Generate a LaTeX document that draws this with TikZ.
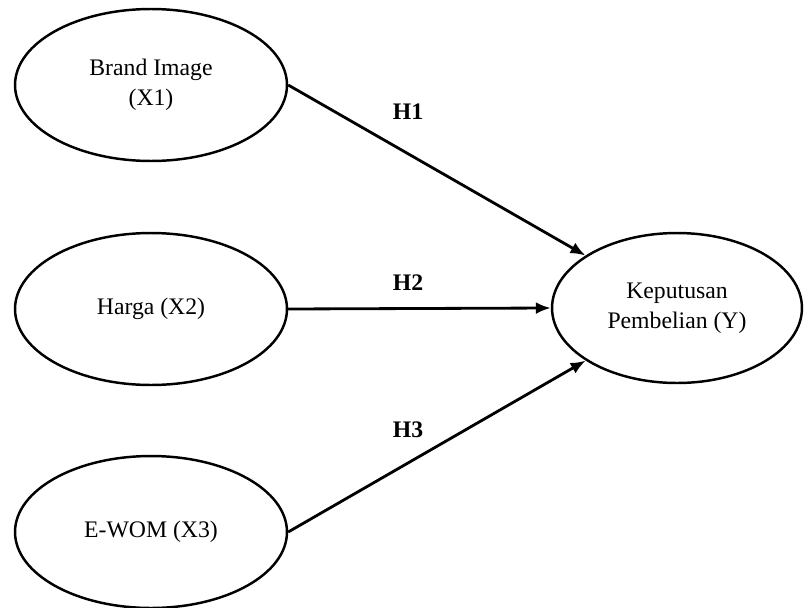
\documentclass[tikz,border=0pt]{standalone}
\usepackage{fontspec}
\setmainfont{Liberation Serif}
\usetikzlibrary{arrows.meta,shapes.geometric}
\tikzstyle{latent}=[
  draw=black,
  ellipse,
  line width=1.4pt,
  inner sep=0pt,
  minimum width=5.44cm,
  minimum height=3.04cm,
  align=center,
  font={\fontsize{13.5}{17}\selectfont},
]
\tikzstyle{path}=[
  ->,
  draw=black,
  line width=1.6pt,
]
\tikzstyle{pathlabel}=[
  font={\fontsize{13.5}{17}\selectfont\bfseries},
]
\tikzset{
  >={Latex[length=0.3cm,width=0.24cm]},
}
\begin{document}
\begin{tikzpicture}[x=0.02cm,y=-0.02cm]
  \useasboundingbox (0,0) rectangle (804,608);
  \node (brand) [latent] at (151,85) {Brand Image\\(X1)};
  \node (harga) [latent] at (151,309) {Harga (X2)};
  \node (ewom) [latent] at (151,532) {E-WOM (X3)};
  \node (keputusan) [latent, minimum width=5.0cm, minimum height=3.0cm]
    at (677,308) {Keputusan\\Pembelian (Y)};
  %%
  \draw [path] (brand.east) -- (keputusan);
  \draw [path] (harga.east) -- (keputusan.west);
  \draw [path] (ewom.east) -- (keputusan);
  %%
  \node (h1) [pathlabel] at (408,112) {H1};
  \node (h2) [pathlabel] at (408,283) {H2};
  \node (h3) [pathlabel] at (408,430) {H3};
\end{tikzpicture}
\end{document}
